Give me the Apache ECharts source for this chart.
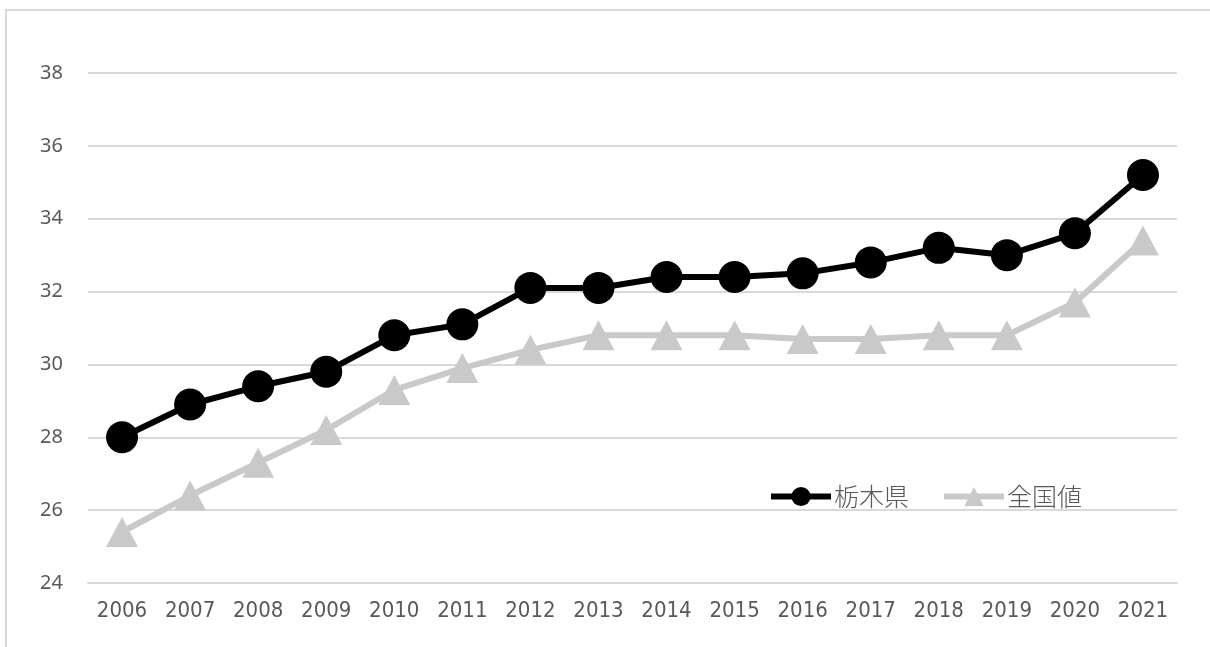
<!DOCTYPE html>
<html>
<head>
<meta charset="utf-8">
<script src="https://cdn.jsdelivr.net/npm/echarts@6/dist/echarts.min.js"></script>
<style>
  html, body { margin: 0; padding: 0; background: #ffffff; }
  #chart { width: 1210px; height: 647px; }
</style>
</head>
<body>
<div id="chart"></div>
<script>
// Years on the horizontal axis
const years = ['2006', '2007', '2008', '2009', '2010', '2011', '2012', '2013',
               '2014', '2015', '2016', '2017', '2018', '2019', '2020', '2021'];
// 栃木県
const tochigi = [28.0, 28.9, 29.4, 29.8, 30.8, 31.1, 32.1, 32.1,
                 32.4, 32.4, 32.5, 32.8, 33.2, 33.0, 33.6, 35.2];
// 全国値
const national = [25.4, 26.4, 27.3, 28.2, 29.3, 29.9, 30.4, 30.8,
                  30.8, 30.8, 30.7, 30.7, 30.8, 30.8, 31.7, 33.4];
const seriesNames = ['栃木県', '全国値'];

const chart = echarts.init(document.getElementById('chart'), null, { renderer: 'canvas' });

const option = {
  animation: false,
  backgroundColor: '#ffffff',
  graphic: [{
    type: 'rect',
    shape: { x: 6, y: 10, width: 1300, height: 700 },
    style: { fill: 'none', stroke: '#d9d9d9', lineWidth: 2 },
    silent: true
  }],
  grid: { left: 88, right: 33, top: 73, bottom: 64 },
  legend: {
    left: 768,
    top: 484,
    padding: 0,
    itemWidth: 60,
    itemHeight: 24,
    itemGap: 32,
    textStyle: { color: '#595959', fontSize: 25, fontWeight: 300, fontFamily: 'Noto Sans CJK JP', padding: [0, 0, 0, -2] },
    data: [
      { name: seriesNames[0], lineStyle: { width: 6, color: '#000000' } },
      { name: seriesNames[1], lineStyle: { width: 6, color: '#c9c9c9' } }
    ]
  },
  xAxis: {
    type: 'category',
    data: years,
    boundaryGap: true,
    axisLine: { show: true, lineStyle: { color: '#d9d9d9', width: 2 } },
    axisTick: { show: false },
    axisLabel: { color: '#595959', fontSize: 22, fontFamily: 'DejaVu Sans Condensed, Roboto, sans-serif', fontWeight: 300, margin: 17 }
  },
  yAxis: {
    type: 'value',
    min: 24,
    max: 38,
    interval: 2,
    axisLine: { show: false },
    axisTick: { show: false },
    axisLabel: { color: '#595959', fontSize: 20, fontFamily: 'Noto Sans', margin: 25 },
    splitLine: { lineStyle: { color: '#d9d9d9', width: 2 } }
  },
  series: [
    {
      name: seriesNames[0],
      type: 'line',
      data: tochigi,
      symbol: 'circle',
      symbolSize: 32,
      lineStyle: { color: '#000000', width: 6 },
      itemStyle: { color: '#000000' },
      z: 3
    },
    {
      name: seriesNames[1],
      type: 'line',
      data: national,
      symbol: 'triangle',
      symbolSize: [32, 30],
      lineStyle: { color: '#c9c9c9', width: 6 },
      itemStyle: { color: '#c9c9c9' },
      z: 2
    }
  ]
};

chart.setOption(option);
</script>
</body>
</html>
